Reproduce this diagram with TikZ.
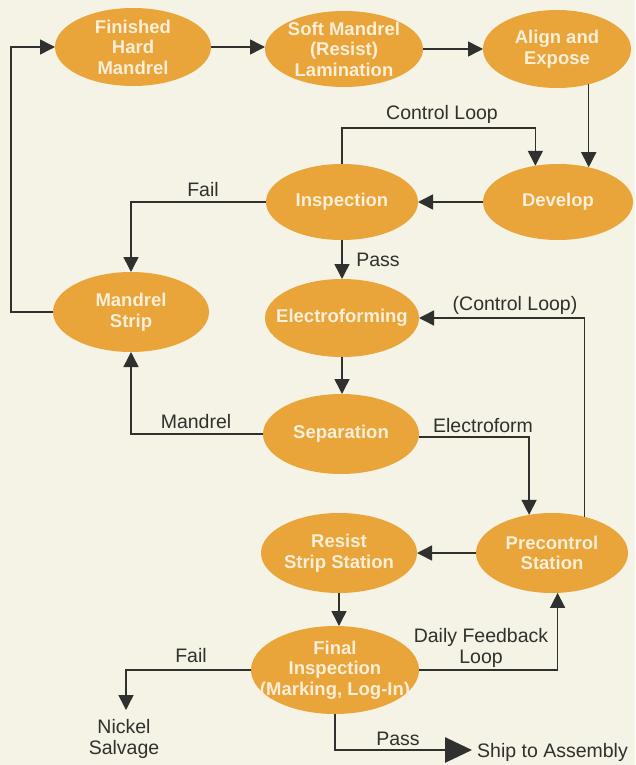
\documentclass[tikz,border=0pt]{standalone}
\usepackage{fontspec}
\setmainfont{Liberation Sans}
\usetikzlibrary{shapes.geometric,arrows.meta}
\definecolor{bg}{RGB}{244,243,229}
\definecolor{orng}{RGB}{233,164,58}
\definecolor{ntext}{RGB}{250,239,216}
\definecolor{ln}{RGB}{48,48,46}
\begin{document}
\begin{tikzpicture}[x=1pt,y=-1pt,
  proc/.style={ellipse, fill=orng, inner sep=-25pt, outer sep=0pt,
    minimum width=156pt, minimum height=78pt, align=center, text=ntext,
    font=\fontsize{18.5}{20.5}\selectfont\bfseries},
  lbl/.style={text=ln, inner sep=0pt, align=center,
    font=\fontsize{19.5}{21}\selectfont},
  one/.style={text height=14pt, text depth=0pt},
  con/.style={draw=ln, line width=1.5pt},
  arr/.style={con, -{Triangle[length=15pt,width=15pt]}},
  bigarr/.style={draw=ln, line width=2.8pt, -{Triangle[length=27pt,width=25pt]}}
]
\fill[bg] (0,0) rectangle (635,765);
\useasboundingbox (0,0) rectangle (635,765);

% process nodes
\node[proc] (fhm) at (133,47) {Finished\\Hard\\Mandrel};
\node[proc, minimum width=158pt, minimum height=76pt] (soft) at (344,49) {Soft Mandrel\\(Resist)\\Lamination};
\node[proc, minimum width=148pt] (align) at (557,49) {Align and\\Expose};
\node[proc, minimum width=150pt, minimum height=76pt] (dev) at (558,202) {Develop};
\node[proc, minimum width=152pt, minimum height=76pt] (insp) at (342,202) {Inspection};
\node[proc, minimum height=80pt] (ms) at (131,312) {Mandrel\\Strip};
\node[proc, minimum width=154pt] (elec) at (342,318) {Electroforming};
\node[proc, minimum height=80pt] (sep) at (341,434) {Separation};
\node[proc, minimum width=152pt, minimum height=80pt] (pre) at (552,553) {Precontrol\\Station};
\node[proc, minimum height=80pt] (rss) at (339,553) {Resist\\Strip Station};
\node[proc, minimum width=168pt, minimum height=88pt] (fin) at (335,670) {Final\\Inspection\\(Marking, Log-In)};

% end texts
\node[lbl] (salv) at (124,739) {Nickel\\Salvage};
\coordinate (ns) at (126,710);
\node[lbl, one, anchor=west, inner xsep=5pt] (ship) at (472,750) {Ship to Assembly};

% connectors
\draw[arr] (ms.west) -- ++(-42,0) |- (fhm.west);
\draw[arr] (fhm.east) -- (fhm.east -| soft.west);
\draw[arr] (soft.east) -- (soft.east -| align.west);
\draw[arr] (align.-48.8) -- (align.-48.8 |- dev.49.2);
\draw[arr] (insp.north) -- ++(0,-36) -| (dev.122.4);
\draw[arr] (dev.west) -- (insp.east);
\draw[arr] (insp.west) -| (ms.north);
\draw[arr] (insp.south) -- (elec.north);
\draw[arr] (elec.south) -- (elec.south |- sep.north);
\draw[arr] (sep.west) -| (ms.south);
\draw[arr] ([yshift=-3pt]sep.east) -| (pre.121.1);
\draw[arr] (pre.48.6) |- (elec.east);
\draw[arr] (pre.west) -- (rss.east);
\draw[arr] (rss.south) -- (rss.south |- fin.north);
\draw[arr] (fin.east) -| (pre.-82.8);
\draw[arr] (fin.west) -| (ns);
\draw[bigarr] (fin.south) |- (ship.west);

% labels
\node[lbl, one] (lcl) at (442,113) {Control Loop};
\node[lbl, one] (lf1) at (203,189) {Fail};
\node[lbl, one] (lp1) at (378,259) {Pass};
\node[lbl, one] (lcl2) at (515,303) {(Control Loop)};
\node[lbl, one] (lman) at (196,421) {Mandrel};
\node[lbl, one] (lelf) at (483,425) {Electroform};
\node[lbl] (ldf) at (481,648) {Daily Feedback\\Loop};
\node[lbl, one] (lf2) at (191,655) {Fail};
\node[lbl, one] (lp2) at (398,738) {Pass};
\end{tikzpicture}
\end{document}
